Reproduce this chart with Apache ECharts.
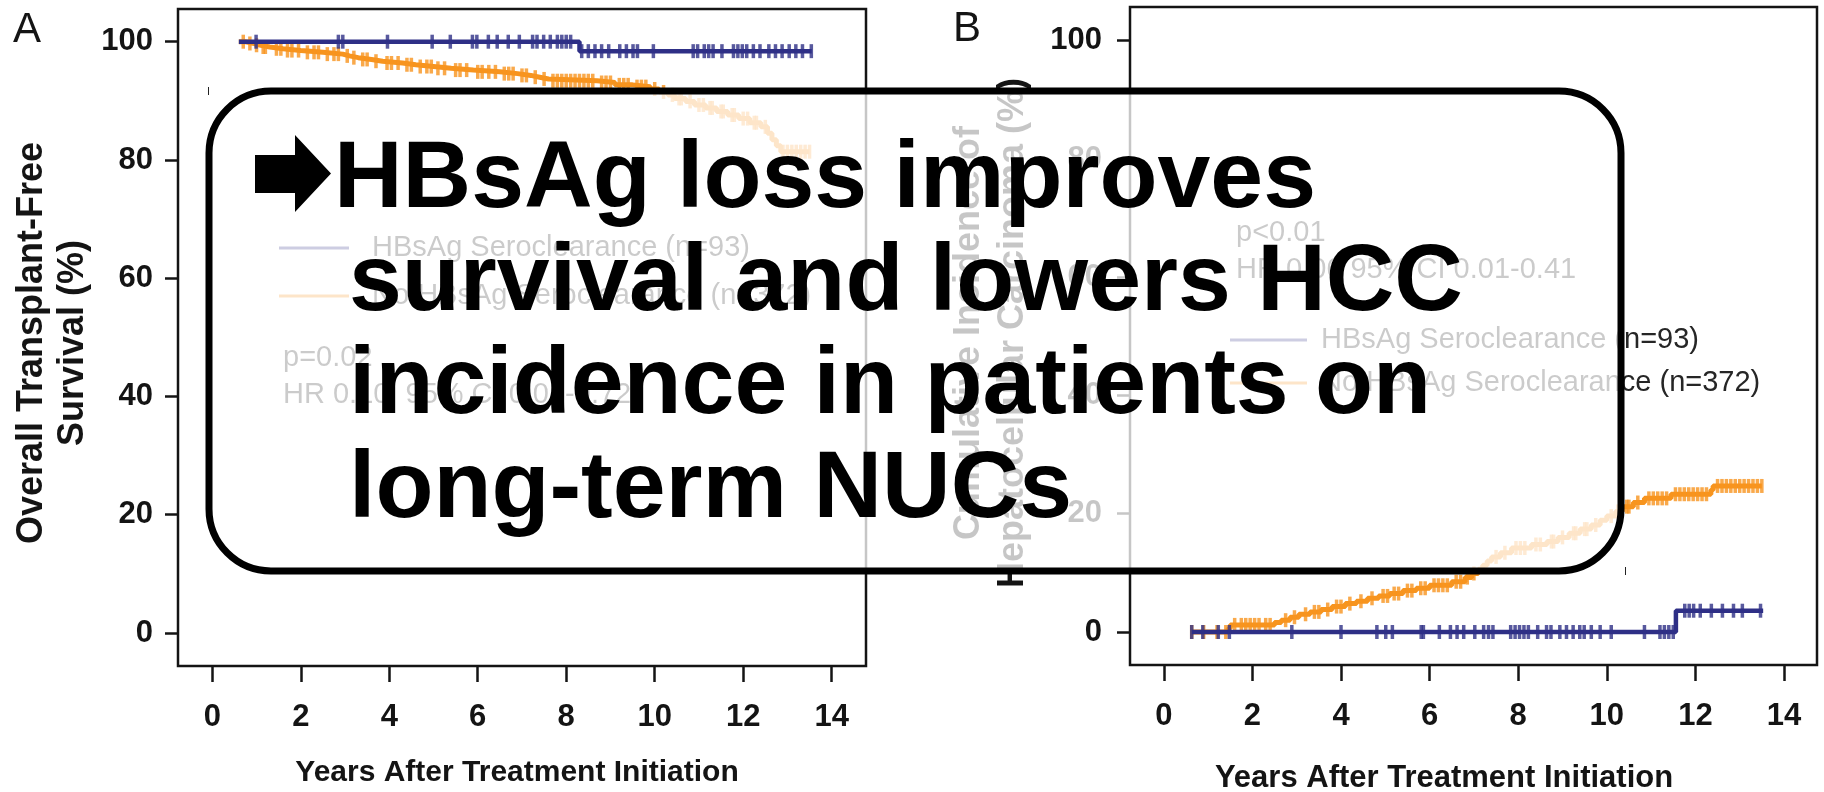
<!DOCTYPE html>
<html><head><meta charset="utf-8">
<script src="https://cdn.jsdelivr.net/npm/echarts@6/dist/echarts.min.js"></script>
<style>html,body{margin:0;padding:0;background:#fff}#c{width:1824px;height:792px}</style>
</head><body><div id="c"></div>
<script>
// ---------- DATA ----------
const xTicks = [0, 2, 4, 6, 8, 10, 12, 14];
const yTicks = [0, 20, 40, 60, 80, 100];
const seriesNames = ['HBsAg Seroclearance (n=93)', 'No HBsAg Seroclearance (n=372)'];

// Panel A: overall transplant-free survival (%)
const aBlueT = [0.6, 8.3, 13.55];
const aBlueS = [100, 98.4, 98.4];
const aBlueCensor = [0.99, 2.85, 2.95, 3.96, 4.97, 5.38, 5.88, 5.98, 6.24, 6.44, 6.69, 6.94, 7.24, 7.34, 7.49, 7.64, 7.8, 7.9, 8.0, 8.1,
  8.35, 8.5, 8.65, 8.8, 8.96, 9.21, 9.36, 9.51, 9.61, 9.97, 10.87, 10.97, 11.12, 11.22, 11.32, 11.52, 11.78, 11.88, 11.98, 12.08,
  12.23, 12.38, 12.58, 12.73, 12.88, 13.04, 13.19, 13.34, 13.54];
const aOrangeT = [0.6, 0.75, 0.95, 1.1, 1.3, 1.6, 2.0, 2.5, 2.95, 3.1, 3.3, 3.6, 3.85, 4.3, 4.6, 5.0, 5.4, 5.9, 6.5, 6.9, 7.2, 7.4, 7.6,
  8.7, 9.1, 9.5, 9.9, 10.1, 10.3, 10.45, 10.7, 10.9, 11.15, 11.4, 11.65, 11.9, 12.15, 12.4, 12.55, 12.65, 12.75, 12.85, 13.5];
const aOrangeS = [100, 99.7, 99.4, 99.1, 98.8, 98.5, 98.2, 97.9, 97.6, 97.3, 97.0, 96.7, 96.4, 96.1, 95.8, 95.5, 95.2, 94.9, 94.6, 94.3, 94.0, 93.7, 93.4,
  93.1, 92.7, 92.4, 92.0, 91.5, 91.0, 90.4, 89.9, 89.3, 88.8, 88.2, 87.6, 87.0, 86.3, 85.6, 84.5, 83.4, 82.4, 81.4, 81.4];
const aOrangeCensor = [0.7, 0.85, 1.0, 1.15, 1.2, 1.45, 1.55, 1.7, 1.8, 1.95, 2.15, 2.3, 2.4, 2.6, 2.75, 2.85, 3.05, 3.2, 3.4, 3.5, 3.7, 3.95,
  4.05, 4.2, 4.4, 4.5, 4.7, 4.85, 4.95, 5.1, 5.25, 5.5, 5.6, 5.75, 6.0, 6.1, 6.25, 6.4, 6.6, 6.7, 6.8, 7.0, 7.1, 7.3, 7.5, 7.7, 7.8, 7.9,
  8.0, 8.1, 8.2, 8.3, 8.4, 8.5, 8.6, 8.8, 8.9, 9.0, 9.2, 9.3, 9.4, 9.6, 9.7, 9.8, 10.0, 10.2, 10.4, 10.55, 10.6, 10.8, 11.0, 11.1, 11.25,
  11.3, 11.5, 11.55, 11.75, 11.8, 12.0, 12.1, 12.25, 12.3, 12.5, 12.9, 13.0, 13.1, 13.2, 13.3, 13.4, 13.5];

// Panel B: cumulative incidence of HCC (%)
const bBlueT = [0.63, 11.56, 13.53];
const bBlueS = [0, 3.6, 3.6];
const bBlueCensor = [0.63, 0.88, 1.23, 1.48, 2.89, 4.0, 4.81, 5.01, 5.16, 5.81, 5.86, 6.22, 6.47, 6.62, 6.77, 7.02, 7.22, 7.33, 7.43,
  7.83, 7.93, 8.03, 8.13, 8.23, 8.44, 8.64, 8.74, 8.94, 9.09, 9.24, 9.39, 9.49, 9.65, 9.85, 10.1, 10.85, 11.2, 11.3, 11.4, 11.5,
  11.76, 11.86, 11.96, 12.11, 12.36, 12.61, 12.86, 13.06, 13.47];
const bOrangeT = [0.63, 1.45, 1.5, 2.5, 2.65, 2.85, 3.05, 3.3, 3.55, 3.8, 4.1, 4.35, 4.6, 4.85, 5.1, 5.4, 5.7, 6.0, 6.5, 6.8, 6.95, 7.1,
  7.2, 7.3, 7.4, 7.6, 7.85, 8.3, 8.65, 8.9, 9.15, 9.4, 9.65, 9.85, 10.0, 10.2, 10.35, 10.6, 10.85, 11.45, 12.35, 12.4, 13.5];
const bOrangeS = [0, 0.6, 1.2, 1.6, 2.0, 2.5, 3.0, 3.4, 3.8, 4.3, 4.8, 5.2, 5.7, 6.1, 6.5, 7.0, 7.4, 7.9, 8.5, 9.2, 9.9, 10.6,
  11.3, 12.0, 12.7, 13.4, 14.2, 14.8, 15.3, 16.0, 16.7, 17.4, 18.1, 18.9, 19.6, 20.4, 21.2, 21.9, 22.6, 23.3, 24.0, 24.7, 24.7];
const bOrangeCensor = [0.63, 0.9, 1.2, 1.4, 1.6, 1.75, 1.85, 1.95, 2.05, 2.15, 2.3, 2.4, 2.75, 2.95, 3.2, 3.4, 3.5, 3.7, 3.9, 4.0, 4.2,
  4.45, 4.7, 4.95, 5.05, 5.2, 5.3, 5.5, 5.6, 5.8, 5.9, 6.1, 6.2, 6.3, 6.4, 6.6, 6.7, 6.85, 7.0, 7.5, 7.7, 7.95, 8.05, 8.15, 8.4, 8.5,
  8.75, 8.8, 9.0, 9.25, 9.3, 9.5, 9.55, 9.75, 10.1, 10.25, 10.45, 10.5, 10.7, 10.95, 11.05, 11.15, 11.25, 11.35, 11.55, 11.65, 11.75,
  11.85, 11.95, 12.05, 12.15, 12.25, 12.5, 12.6, 12.7, 12.8, 12.9, 13.0, 13.1, 13.2, 13.3, 13.4, 13.5];

const titleLines = ['HBsAg loss improves', 'survival and lowers HCC', 'incidence in patients on', 'long-term NUCs'];
const statsA = ['p=0.02', 'HR 0.10, 95% CI 0.01-0.72'];
const statsB = ['p<0.01', 'HR 0.06 95% CI 0.01-0.41'];

// ---------- HELPERS ----------
const BLUE = '#2e2f86', ORANGE = '#f7941e', INK = '#141414', FONT = '"Liberation Sans", Arial, sans-serif';
const pairs = (ts, vs) => ts.map((t, i) => [t, vs[i]]);
function valueAt(ts, vs, t) { let v = vs[0]; for (let i = 0; i < ts.length; i++) { if (ts[i] <= t) v = vs[i]; } return v; }
const censorPts = (cs, ts, vs) => cs.map(t => [t, valueAt(ts, vs, t)]);

function xAxisOf(idx, min, max) {
  return { type: 'value', gridIndex: idx, min, max, position: 'bottom', splitLine: { show: false }, axisLine: { show: false, onZero: false },
    axisTick: { show: true, inside: false, length: 16, customValues: xTicks, lineStyle: { color: INK, width: 2.5 } },
    axisLabel: { customValues: xTicks, margin: 36, fontSize: 31, fontWeight: 'bold', color: INK, fontFamily: FONT } };
}
function yAxisOf(idx, min, max, margin) {
  return { type: 'value', gridIndex: idx, min, max, position: 'left', splitLine: { show: false }, axisLine: { show: false, onZero: false },
    axisTick: { show: true, inside: false, length: 13, customValues: yTicks, lineStyle: { color: INK, width: 2.5 } },
    axisLabel: { customValues: yTicks, margin, fontSize: 31, fontWeight: 'bold', color: INK, fontFamily: FONT } };
}
function lineS(name, xi, data, color, z, w) {
  return { type: 'line', name, xAxisIndex: xi, yAxisIndex: xi, data, step: 'end', showSymbol: false, symbol: 'none',
    lineStyle: { color, width: w }, itemStyle: { color }, z, silent: true };
}
function censorS(name, xi, data, color, z) {
  return { type: 'scatter', name, xAxisIndex: xi, yAxisIndex: xi, data, symbol: 'rect', symbolSize: [3.5, 14],
    itemStyle: { color }, z, silent: true };
}
function txt(x, y, text, size, opts) {
  return Object.assign({ type: 'text', x, y, z: 50, style: Object.assign({ text, fontSize: size, fontFamily: FONT, fill: '#262626',
    align: 'left', verticalAlign: 'middle' }, (opts && opts.style) || {}) }, opts ? { rotation: opts.rotation || 0, z: opts.z || 50 } : {});
}

const graphics = [
  // panel letters
  txt(13, 30, 'A', 42, { style: { fill: INK } }),
  txt(953, 29, 'B', 42, { style: { fill: INK } }),
  // axis titles
  txt(517, 773, 'Years After Treatment Initiation', 30, { style: { fontWeight: 'bold', fill: INK, align: 'center' } }),
  txt(1444, 778, 'Years After Treatment Initiation', 31, { style: { fontWeight: 'bold', fill: INK, align: 'center' } }),
  txt(53, 343, 'Overall Transplant-Free\nSurvival (%)', 36, { rotation: Math.PI / 2, style: { fontWeight: 'bold', fill: INK, align: 'center', lineHeight: 41 } }),
  txt(991, 333, 'Cumulative Incidence of\nHepatocellular Carcinoma (%)', 36, { rotation: Math.PI / 2, style: { fontWeight: 'bold', fill: INK, align: 'center', lineHeight: 44 } }),
  // legend A
  { type: 'line', z: 50, shape: { x1: 279, y1: 248, x2: 349, y2: 248 }, style: { stroke: BLUE, lineWidth: 3 } },
  { type: 'line', z: 50, shape: { x1: 279, y1: 296, x2: 349, y2: 296 }, style: { stroke: ORANGE, lineWidth: 3 } },
  txt(372, 248, seriesNames[0], 29),
  txt(372, 296, seriesNames[1], 29),
  txt(283, 358, statsA[0], 29),
  txt(283, 395, statsA[1], 29),
  // legend B
  { type: 'line', z: 50, shape: { x1: 1230, y1: 340, x2: 1307, y2: 340 }, style: { stroke: BLUE, lineWidth: 3 } },
  { type: 'line', z: 50, shape: { x1: 1230, y1: 383, x2: 1307, y2: 383 }, style: { stroke: ORANGE, lineWidth: 3 } },
  txt(1321, 340, seriesNames[0], 29),
  txt(1321, 383, seriesNames[1], 29),
  txt(1236, 233, statsB[0], 29),
  txt(1236, 270, statsB[1], 29),
  // stray marks
  { type: 'line', z: 50, shape: { x1: 208.5, y1: 87, x2: 208.5, y2: 95 }, style: { stroke: '#222', lineWidth: 1 } },
  { type: 'line', z: 50, shape: { x1: 1625.5, y1: 567, x2: 1625.5, y2: 575 }, style: { stroke: '#222', lineWidth: 1 } },
  // overlay box
  { type: 'rect', z: 100, shape: { x: 209, y: 91, width: 1412, height: 480, r: 62 },
    style: { fill: 'rgba(255,255,255,0.76)', stroke: '#000', lineWidth: 7 } },
  // bullet arrow
  { type: 'polygon', z: 101, shape: { points: [[255, 155], [295, 155], [295, 135], [331, 173.5], [295, 212], [295, 193], [255, 193]] },
    style: { fill: '#000' } },
  txt(334, 181, titleLines[0], 95, { z: 101, style: { fill: '#000', fontWeight: 'bold' } }),
  txt(349, 284, titleLines[1], 95, { z: 101, style: { fill: '#000', fontWeight: 'bold' } }),
  txt(349, 387, titleLines[2], 95, { z: 101, style: { fill: '#000', fontWeight: 'bold' } }),
  txt(349, 491, titleLines[3], 95, { z: 101, style: { fill: '#000', fontWeight: 'bold' } })
];

const chart = echarts.init(document.getElementById('c'), null, { renderer: 'canvas' });
chart.setOption({
  animation: false,
  backgroundColor: '#ffffff',
  grid: [
    { left: 178, top: 9, right: 1824 - 866, bottom: 792 - 666, show: true, borderColor: INK, borderWidth: 2.5, backgroundColor: 'transparent', containLabel: false },
    { left: 1130, top: 7, right: 1824 - 1817, bottom: 792 - 665, show: true, borderColor: INK, borderWidth: 2.5, backgroundColor: 'transparent', containLabel: false }
  ],
  xAxis: [xAxisOf(0, -0.775, 14.776), xAxisOf(1, -0.763, 14.745)],
  yAxis: [yAxisOf(0, -5.58, 105.53, 25), yAxisOf(1, -5.58, 105.7, 28)],
  series: [
    lineS(seriesNames[1], 0, pairs(aOrangeT, aOrangeS), ORANGE, 2, 5),
    censorS(seriesNames[1], 0, censorPts(aOrangeCensor, aOrangeT, aOrangeS), ORANGE, 3),
    lineS(seriesNames[0], 0, pairs(aBlueT, aBlueS), BLUE, 4, 4.5),
    censorS(seriesNames[0], 0, censorPts(aBlueCensor, aBlueT, aBlueS), BLUE, 5),
    lineS(seriesNames[1], 1, pairs(bOrangeT, bOrangeS), ORANGE, 2, 5),
    censorS(seriesNames[1], 1, censorPts(bOrangeCensor, bOrangeT, bOrangeS), ORANGE, 3),
    lineS(seriesNames[0], 1, pairs(bBlueT, bBlueS), BLUE, 4, 4.5),
    censorS(seriesNames[0], 1, censorPts(bBlueCensor, bBlueT, bBlueS), BLUE, 5)
  ],
  graphic: graphics
});
</script></body></html>
